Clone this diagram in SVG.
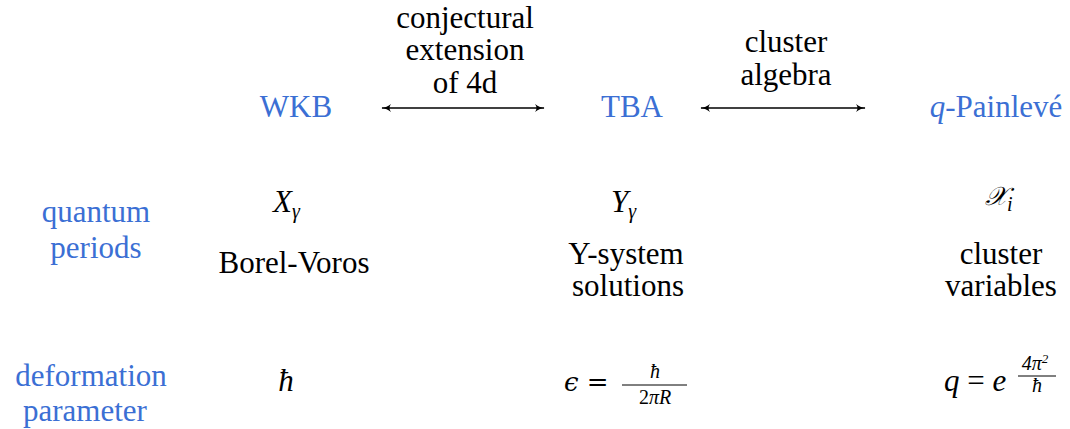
<svg xmlns="http://www.w3.org/2000/svg" width="1070" height="429" viewBox="0 0 1070 429" font-family="Liberation Serif" font-size="31" text-anchor="middle" fill="#000">
<defs>
<marker id="ah" viewBox="0 0 10 10" refX="9" refY="5" markerWidth="10" markerHeight="10" markerUnits="userSpaceOnUse" orient="auto-start-reverse">
<path d="M0,1 Q5,5 10,5 Q5,5 0,9 Q3,5 0,1Z" fill="#000"/>
</marker>
</defs>
<g id="connectors" stroke="#000" stroke-width="1.3" fill="none">
<line x1="382" y1="108" x2="544" y2="108" marker-start="url(#ah)" marker-end="url(#ah)"/>
<line x1="701" y1="108" x2="865" y2="108" marker-start="url(#ah)" marker-end="url(#ah)"/>
</g>
<g id="label-conj">
<text x="465" y="28">conjectural</text>
<text x="465" y="60">extension</text>
<text x="465" y="93">of 4d</text>
</g>
<g id="label-cluster">
<text x="786" y="52">cluster</text>
<text x="786" y="85">algebra</text>
</g>
<g id="wkb" fill="#3b6fd4"><text x="296" y="117">WKB</text></g>
<g id="tba" fill="#3b6fd4"><text x="632" y="117">TBA</text></g>
<g id="qp" fill="#3b6fd4"><text x="996" y="117"><tspan font-style="italic">q</tspan>-Painlevé</text></g>
<g id="quantum-periods" fill="#3b6fd4">
<text x="96" y="222">quantum</text>
<text x="96" y="258">periods</text>
</g>
<g id="deformation-parameter" fill="#3b6fd4">
<text x="91" y="386">deformation</text>
<text x="85" y="421">parameter</text>
</g>
<g id="wkb-col">
<text font-style="italic" x="273" y="212" text-anchor="start">X<tspan font-size="20" dy="6">γ</tspan></text>
<text x="294" y="273">Borel-Voros</text>
<text font-style="italic" x="286" y="391">ħ</text>
</g>
<g id="tba-col">
<text font-style="italic" x="611" y="212" text-anchor="start">Y<tspan font-size="20" dy="6">γ</tspan></text>
<text x="626" y="264">Y-system</text>
<text x="628" y="296">solutions</text>
<text x="564" y="391" text-anchor="start" font-family="DejaVu Serif" font-size="26"><tspan font-style="italic">ϵ</tspan> =</text>
<text font-style="italic" font-size="20" x="655" y="378">ħ</text>
<line x1="622" y1="385" x2="687" y2="385" stroke="#000" stroke-width="1"/>
<text font-size="20" x="655" y="404">2<tspan font-style="italic">πR</tspan></text>
</g>
<g id="qp-col">
<text x="985" y="205" text-anchor="start" font-style="italic" font-size="26" font-family="DejaVu Serif">𝒳<tspan font-size="20" dy="6" font-family="Liberation Serif">i</tspan></text>
<text x="1001" y="264">cluster</text>
<text x="1001" y="296">variables</text>
<text x="944" y="391" text-anchor="start"><tspan font-style="italic">q</tspan> = <tspan font-style="italic">e</tspan></text>
<text font-style="italic" font-size="20" x="1035" y="370">4π<tspan dy="-7" font-size="13">2</tspan></text>
<line x1="1018" y1="376" x2="1056" y2="376" stroke="#000" stroke-width="1"/>
<text font-style="italic" font-size="20" x="1037" y="392">ħ</text>
</g>
</svg>
